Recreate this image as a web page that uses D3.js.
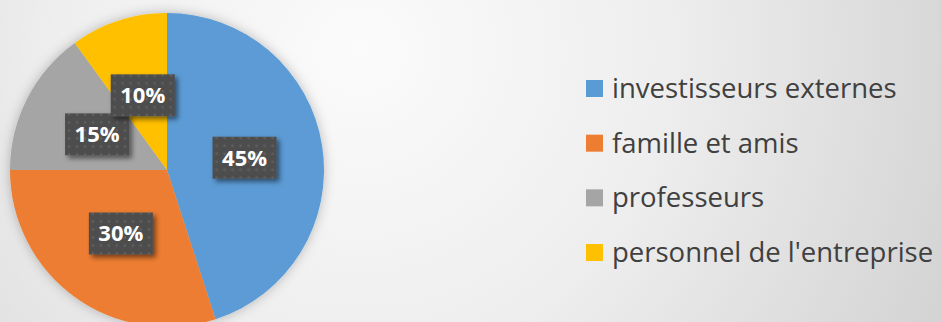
<!DOCTYPE html>
<html>
<head>
<meta charset="utf-8">
<script src="https://cdn.jsdelivr.net/npm/d3@7"></script>
<style>
  html, body {margin: 0; padding: 0; overflow: hidden;}
  svg {display: block;}
</style>
</head>
<body>
<div id="chart"></div>
<script>
var categories = ['investisseurs externes', 'famille et amis', 'professeurs', "personnel de l'entreprise"]
var values = [45, 30, 15, 10]
var colors = ['#5b9bd5', '#ed7d31', '#a5a5a5', '#ffc000']

var width = 941, height = 322
var cx = 167, cy = 170, r = 157

var svg = d3.select('#chart').append('svg')
  .attr('width', width)
  .attr('height', height)
  .style('font-family', '"Open Sans", sans-serif')

var defs = svg.append('defs')

// background gradient
var bg = defs.append('radialGradient')
  .attr('id', 'bg')
  .attr('gradientUnits', 'userSpaceOnUse')
  .attr('cx', 360).attr('cy', 50).attr('r', 680)
bg.append('stop').attr('offset', 0).attr('stop-color', '#fbfbfb')
bg.append('stop').attr('offset', 0.45).attr('stop-color', '#eeeeee')
bg.append('stop').attr('offset', 1).attr('stop-color', '#d0d0d0')

// dotted fill for the data labels
var pat = defs.append('pattern')
  .attr('id', 'dots')
  .attr('patternUnits', 'userSpaceOnUse')
  .attr('width', 8).attr('height', 8)
pat.append('rect').attr('width', 8).attr('height', 8).attr('fill', '#4e4e4e')
pat.append('circle').attr('cx', 4).attr('cy', 4).attr('r', 1.3).attr('fill', '#606060')

var shadow = defs.append('filter').attr('id', 'shadow')
  .attr('x', '-30%').attr('y', '-30%').attr('width', '160%').attr('height', '160%')
shadow.append('feDropShadow')
  .attr('dx', 3).attr('dy', 3).attr('stdDeviation', 2.5)
  .attr('flood-color', '#000').attr('flood-opacity', 0.5)

var pieShadow = defs.append('filter').attr('id', 'pieshadow')
  .attr('x', '-20%').attr('y', '-20%').attr('width', '140%').attr('height', '140%')
pieShadow.append('feDropShadow')
  .attr('dx', 0).attr('dy', 0).attr('stdDeviation', 6)
  .attr('flood-color', '#000').attr('flood-opacity', 0.25)

svg.append('rect')
  .attr('width', width).attr('height', height)
  .attr('fill', 'url(#bg)')

var data = categories.map((c, i) => ({name: c, value: values[i], color: colors[i]}))

var pie = d3.pie().sort(null).value(d => d.value)
var arc = d3.arc().innerRadius(0).outerRadius(r)
var arcs = pie(data)

var g = svg.append('g').attr('transform', `translate(${cx},${cy})`)

g.append('g').attr('filter', 'url(#pieshadow)')
  .selectAll('path')
  .data(arcs)
  .join('path')
  .attr('d', arc)
  .attr('fill', d => d.data.color)

var total = d3.sum(values)
var fmt = d => Math.round(d / total * 100) + '%'

var lab = g.selectAll('g.lab')
  .data(arcs)
  .join('g')
  .attr('class', 'lab')
  .attr('transform', d => `translate(${arc.centroid(d)})`)

var bw = 64, bh = 42
lab.append('rect')
  .attr('x', -bw / 2).attr('y', -bh / 2)
  .attr('width', bw).attr('height', bh)
  .attr('fill', 'url(#dots)')
  .attr('filter', 'url(#shadow)')

lab.append('text')
  .attr('text-anchor', 'middle')
  .attr('dy', '0.36em')
  .attr('fill', '#fff')
  .attr('font-weight', 'bold')
  .attr('font-size', 22)
  .text(d => fmt(d.data.value))

// legend
var ly = d3.scalePoint().domain(categories).range([89, 253])

var leg = svg.append('g')
  .selectAll('g')
  .data(data)
  .join('g')
  .attr('transform', d => `translate(586,${ly(d.name)})`)

leg.append('rect')
  .attr('x', 0).attr('y', -9)
  .attr('width', 17).attr('height', 17)
  .attr('fill', d => d.color)

leg.append('text')
  .attr('x', 26)
  .attr('y', 9)
  .attr('fill', '#404040')
  .attr('font-size', 27.5)
  .text(d => d.name)
</script>
</body>
</html>
